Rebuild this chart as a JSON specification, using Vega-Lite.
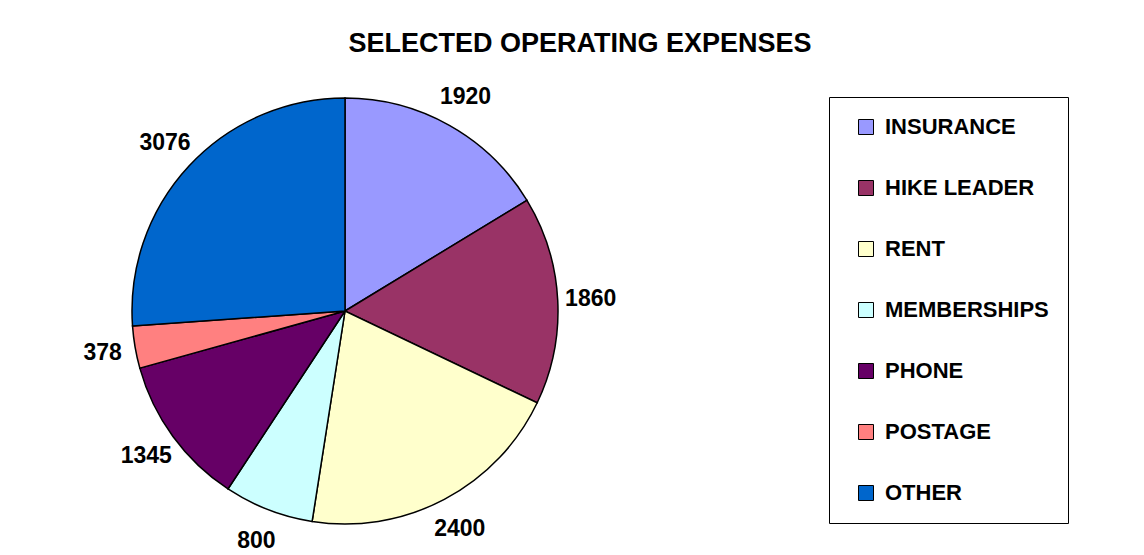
{
  "$schema": "https://vega.github.io/schema/vega-lite/v6.json",
  "width": 690,
  "height": 488,
  "autosize": {"type": "none"},
  "padding": {"left": 0, "top": 67, "right": 454, "bottom": 0},
  "background": "white",
  "title": {
    "text": "SELECTED OPERATING EXPENSES",
    "font": "Liberation Sans",
    "fontSize": 27,
    "fontWeight": "bold",
    "color": "black",
    "anchor": "middle",
    "frame": "group",
    "dx": 235,
    "offset": 9
  },
  "data": {
    "values": [
      {"category": "INSURANCE", "amount": 1920, "rank": 1},
      {"category": "HIKE LEADER", "amount": 1860, "rank": 2},
      {"category": "RENT", "amount": 2400, "rank": 3},
      {"category": "MEMBERSHIPS", "amount": 800, "rank": 4},
      {"category": "PHONE", "amount": 1345, "rank": 5},
      {"category": "POSTAGE", "amount": 378, "rank": 6},
      {"category": "OTHER", "amount": 3076, "rank": 7}
    ]
  },
  "encoding": {
    "theta": {"field": "amount", "type": "quantitative", "stack": true},
    "order": {"field": "rank", "type": "quantitative"}
  },
  "layer": [
    {
      "mark": {"type": "arc", "outerRadius": 213, "stroke": "black", "strokeWidth": 1.5},
      "encoding": {
        "color": {
          "field": "category",
          "type": "nominal",
          "scale": {
            "domain": ["INSURANCE", "HIKE LEADER", "RENT", "MEMBERSHIPS", "PHONE", "POSTAGE", "OTHER"],
            "range": ["#9999FF", "#993366", "#FFFFCC", "#CCFFFF", "#660066", "#FF8080", "#0066CC"]
          },
          "legend": {
            "title": null,
            "orient": "none",
            "legendX": 829,
            "legendY": 30,
            "direction": "vertical",
            "strokeColor": "black",
            "fillColor": "white",
            "padding": 19,
            "symbolType": "square",
            "symbolSize": 225,
            "symbolStrokeColor": "black",
            "symbolStrokeWidth": 1,
            "symbolOffset": 7,
            "symbolOpacity": 1,
            "labelFont": "Liberation Sans",
            "labelFontSize": 22,
            "labelFontWeight": "bold",
            "labelColor": "black",
            "labelOffset": 8,
            "labelLimit": 400,
            "rowPadding": 39
          }
        }
      }
    },
    {
      "mark": {
        "type": "text",
        "radius": 246,
        "font": "Liberation Sans",
        "fontSize": 23,
        "fontWeight": "bold",
        "color": "black",
        "align": "center",
        "baseline": "middle"
      },
      "encoding": {
        "text": {"field": "amount", "type": "quantitative", "format": "d"}
      }
    }
  ],
  "config": {"view": {"stroke": null}}
}
